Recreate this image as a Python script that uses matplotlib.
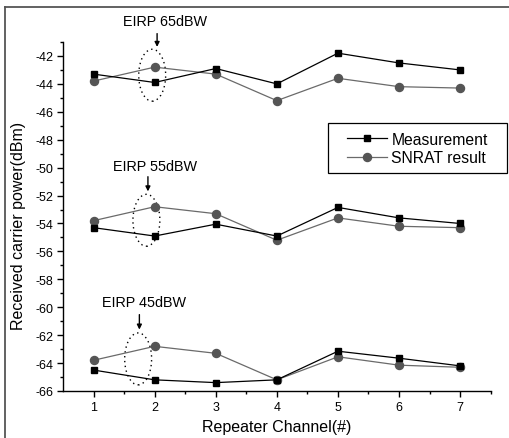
import matplotlib
matplotlib.use("Agg")
import matplotlib.pyplot as plt
from matplotlib.patches import Ellipse, Rectangle
from matplotlib.lines import Line2D

plt.rcParams['font.family'] = ['Liberation Sans', 'DejaVu Sans']
plt.rcParams['axes.unicode_minus'] = False

channels = [1, 2, 3, 4, 5, 6, 7]
meas_65 = [-43.3, -43.9, -42.9, -44.0, -41.8, -42.5, -43.0]
snrat_65 = [-43.8, -42.8, -43.3, -45.2, -43.6, -44.2, -44.3]
meas_55 = [-54.3, -54.9, -54.05, -54.9, -52.85, -53.6, -54.0]
snrat_55 = [-53.8, -52.8, -53.3, -55.2, -53.6, -54.2, -54.3]
meas_45 = [-64.5, -65.2, -65.4, -65.2, -63.15, -63.65, -64.2]
snrat_45 = [-63.8, -62.8, -63.3, -65.2, -63.55, -64.15, -64.3]

yticks = list(range(-66, -41, 2))
xticks = channels

W, H = 510, 439
fig = plt.figure(figsize=(W / 100, H / 100), dpi=100)
ax = fig.add_axes([63 / W, 1 - 392 / H, (490.7 - 63) / W, (392 - 43) / H])

mcol = 'black'
scol = '#555555'
lcol = '#6a6a6a'
mstyle = dict(color=mcol, lw=0.9, marker='s', ms=5, mfc=mcol, mec=mcol)
sstyle = dict(color=lcol, lw=0.9, marker='o', ms=5.8, mfc=scol, mec=scol)
for m, s in [(meas_65, snrat_65), (meas_55, snrat_55), (meas_45, snrat_45)]:
    ax.plot(channels, m, zorder=3, **mstyle)
    ax.plot(channels, s, zorder=2, **sstyle)

ax.set_xlim(0.5, 7.5)
ax.set_ylim(-66, -41)
ax.set_xticks(xticks)
ax.set_xticks([1.5, 2.5, 3.5, 4.5, 5.5, 6.5, 7.5], minor=True)
ax.set_yticks(yticks)
ax.set_yticks(list(range(-65, -40, 2)), minor=True)
ax.tick_params(which='major', direction='out', length=4.5, width=1, labelsize=9, pad=2.5)
ax.tick_params(which='minor', direction='out', length=2.3, width=1)
for sp in ['top', 'right']:
    ax.spines[sp].set_visible(False)
for sp in ['left', 'bottom']:
    ax.spines[sp].set_linewidth(1.0)

ax.set_xlabel('Repeater Channel(#)', fontsize=11.5)
ax.xaxis.set_label_coords((277 - 63) / (490.7 - 63), (392 - 420) / 349)
ax.set_ylabel('Received carrier power(dBm)', fontsize=11.5)
ax.yaxis.set_label_coords((26 - 63) / (490.7 - 63), (392 - 226) / 349)

# ellipses
for (cx, cy) in [(1.96, -43.38), (1.865, -53.77), (1.73, -63.7)]:
    e = Ellipse((cx, cy), 0.44, 3.72, fill=False, ls=(0, (1, 2.5)), lw=1.0, ec='black', clip_on=False)
    ax.add_patch(e)

# annotations
ann = [("EIRP 65dBW", 2.17, -39.47, 2.04, -40.2, -41.55),
       ("EIRP 55dBW", 2.0, -49.9, 1.89, -50.45, -51.9),
       ("EIRP 45dBW", 1.83, -59.66, 1.75, -60.33, -61.8)]
for txt, tx, ty, axx, y0, y1 in ann:
    ax.text(tx, ty, txt, ha='center', va='center', fontsize=10.4)
    ax.annotate('', xy=(axx, y1), xytext=(axx, y0),
                arrowprops=dict(arrowstyle='-|>', color='black', lw=1.0, mutation_scale=7),
                annotation_clip=False)

# legend
box = Rectangle((328 / W, 1 - 174 / H), (506.7 - 328) / W, 50 / H, transform=fig.transFigure,
                fill=True, fc='white', ec='black', lw=0.9, zorder=5)
fig.add_artist(box)
handles = [Line2D([], [], **mstyle), Line2D([], [], **sstyle)]
leg = fig.legend(handles, ['Measurement', 'SNRAT result'], loc='center',
                 bbox_to_anchor=(417.3 / W, 1 - 149.5 / H), fontsize=11.3, frameon=False,
                 borderpad=0.0, handlelength=2.55, labelspacing=0.2, handletextpad=0.3,
                 borderaxespad=0)
leg.set_zorder(6)

# figure frame
fig.add_artist(Line2D([5 / W, 5 / W], [0, 1 - 8 / H], color='#555555', lw=1.3))
fig.add_artist(Line2D([5 / W, 1], [1 - 8 / H, 1 - 8 / H], color='#555555', lw=1.3))

fig.savefig('out.png', dpi=100)
